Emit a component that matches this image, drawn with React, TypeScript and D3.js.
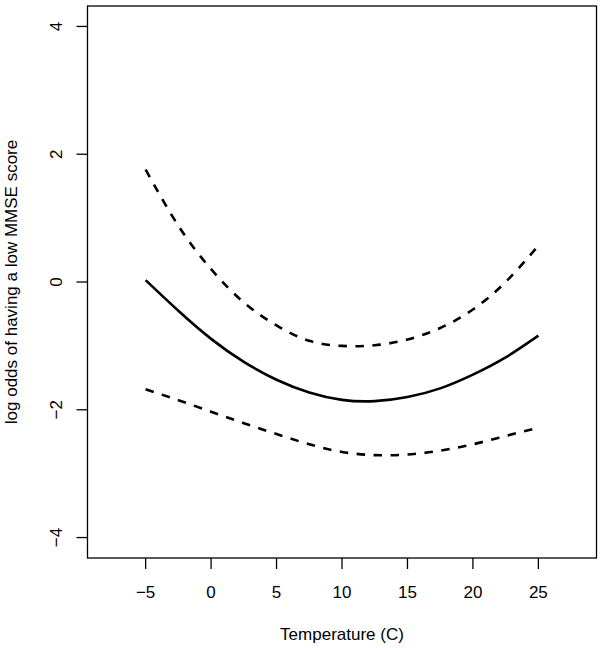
import React from "react";
import * as d3 from "d3";

const temps = [-5, -2.5, 0, 2.5, 5, 7.5, 10, 12.5, 15, 17.5, 20, 22.5, 25];
const fitValues = [0.03, -0.45, -0.89, -1.25, -1.53, -1.73, -1.845, -1.865, -1.8, -1.665, -1.45, -1.18, -0.84];
const upperValues = [1.76, 0.88, 0.2, -0.32, -0.68, -0.92, -1.0, -0.99, -0.9, -0.72, -0.43, 0.0, 0.57];
const lowerValues = [-1.68, -1.85, -2.03, -2.21, -2.38, -2.54, -2.66, -2.71, -2.7, -2.64, -2.54, -2.41, -2.28];

const xTicks = [-5, 0, 5, 10, 15, 20, 25];
const yTicks = [-4, -2, 0, 2, 4];
const xLimits = [-8, 28];
const yLimits = [-4, 4];
const xTitle = "Temperature (C)";
const yTitle = "log odds of having a low MMSE score";

const W = 604;
const H = 650;
const left = 87.5;
const right = 596.5;
const top = 6;
const bottom = 558;
const FONT = "'Liberation Sans', Arial, Helvetica, sans-serif";
const FS = 17;

function pad(lim: number[]) {
  const d = (lim[1] - lim[0]) * 0.04;
  return [lim[0] - d, lim[1] + d];
}

const fmt = (v: number) => (v < 0 ? "\u2212" + Math.abs(v) : String(v));

export default function App() {
  const x = d3.scaleLinear().domain(pad(xLimits)).range([left, right]);
  const y = d3.scaleLinear().domain(pad(yLimits)).range([bottom, top]);
  const line = d3
    .line<[number, number]>()
    .x((d) => x(d[0]))
    .y((d) => y(d[1]))
    .curve(d3.curveNatural);
  const mk = (vals: number[]) => line(temps.map((t, i) => [t, vals[i]] as [number, number])) || "";

  return (
    <svg
      width={W}
      height={H}
      style={{ position: "absolute", left: 0, top: 0, background: "#fff" }}
      fontFamily={FONT}
    >
      <rect x={0} y={0} width={W} height={H} fill="#fff" />
      <path d={mk(upperValues)} fill="none" stroke="#000" strokeWidth={2.6} strokeDasharray="8.5,8.5" />
      <path d={mk(fitValues)} fill="none" stroke="#000" strokeWidth={2.6} />
      <path d={mk(lowerValues)} fill="none" stroke="#000" strokeWidth={2.6} strokeDasharray="8.5,8.5" />
      <rect x={left} y={top} width={right - left} height={bottom - top} fill="none" stroke="#000" strokeWidth={1.3} />
      {xTicks.map((t) => (
        <g key={"x" + t}>
          <line x1={x(t)} x2={x(t)} y1={bottom} y2={bottom + 11} stroke="#000" strokeWidth={1.3} />
          <text x={x(t)} y={598} textAnchor="middle" fontSize={FS}>
            {fmt(t)}
          </text>
        </g>
      ))}
      {yTicks.map((t) => (
        <g key={"y" + t}>
          <line x1={left} x2={left - 11} y1={y(t)} y2={y(t)} stroke="#000" strokeWidth={1.3} />
          <text transform={`translate(62,${y(t)}) rotate(-90)`} textAnchor="middle" fontSize={FS}>
            {fmt(t)}
          </text>
        </g>
      ))}
      <text x={(left + right) / 2} y={640} textAnchor="middle" fontSize={FS}>
        {xTitle}
      </text>
      <text transform={`translate(16.5,${(top + bottom) / 2}) rotate(-90)`} textAnchor="middle" fontSize={FS}>
        {yTitle}
      </text>
    </svg>
  );
}
